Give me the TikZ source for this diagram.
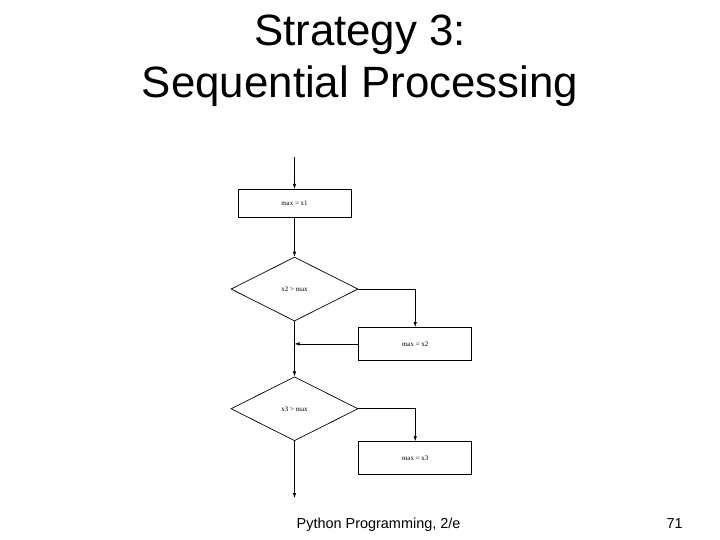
\documentclass[tikz,border=0pt]{standalone}
\usepackage{fontspec}
\setmainfont{Liberation Sans}
\newfontfamily\chartfont{Liberation Serif}
\usepackage{tikz}
\usetikzlibrary{arrows.meta,positioning,shapes.geometric}
\tikzset{
  procbox/.style={draw, minimum width=113bp, minimum height=28bp, inner sep=0pt, font=\chartfont\fontsize{7}{8}\selectfont},
  testbox/.style={diamond, draw, aspect=2.0, minimum width=127bp, minimum height=64bp, inner sep=0pt, font=\chartfont\fontsize{7}{8}\selectfont},
  line/.style={-{Latex[length=5bp,width=3.5bp]}, line width=.7bp}
}
\begin{document}
\begin{tikzpicture}[x=1bp, y=-1bp, line width=.7bp]
        \useasboundingbox (0,0) rectangle (720,540);
        \node[align=center, font=\fontsize{44}{52}\selectfont] (title) at (360,61) {Strategy 3:\\Sequential Processing};

        \coordinate (start) at (294.5,157);
        \node[procbox, below=32bp of start] (init) {max = x1};
        \draw[line] (start) -- (init.north);

        \node[testbox, below=39bp of init] (test1) {x2 > max};
        \draw[line] (init.south) -- (test1.north);
        \node[procbox, minimum height=33bp, below right=38bp and 0bp of test1.east] (set2) {max = x2};
        \draw[line] (test1.east) -| (set2.north);

        \node[testbox, below=55bp of test1] (test2) {x3 > max};
        \draw[line] (test1.south) -- (test2.north);
        \draw[line] (set2.west) -- (set2.west -| test1.south);
        \node[procbox, minimum height=33bp, below right=32.5bp and 0bp of test2.east] (set3) {max = x3};
        \draw[line] (test2.east) -| (set3.north);

        \coordinate[below=57bp of test2] (finish);
        \draw[line] (test2.south) -- (finish);

        \node[anchor=base west, font=\fontsize{14.5}{17}\selectfont] (book) at (293,528) {Python Programming, 2/e};
        \node[anchor=base west, font=\fontsize{14.5}{17}\selectfont] (page) at (663,528) {71};
\end{tikzpicture}
\end{document}
